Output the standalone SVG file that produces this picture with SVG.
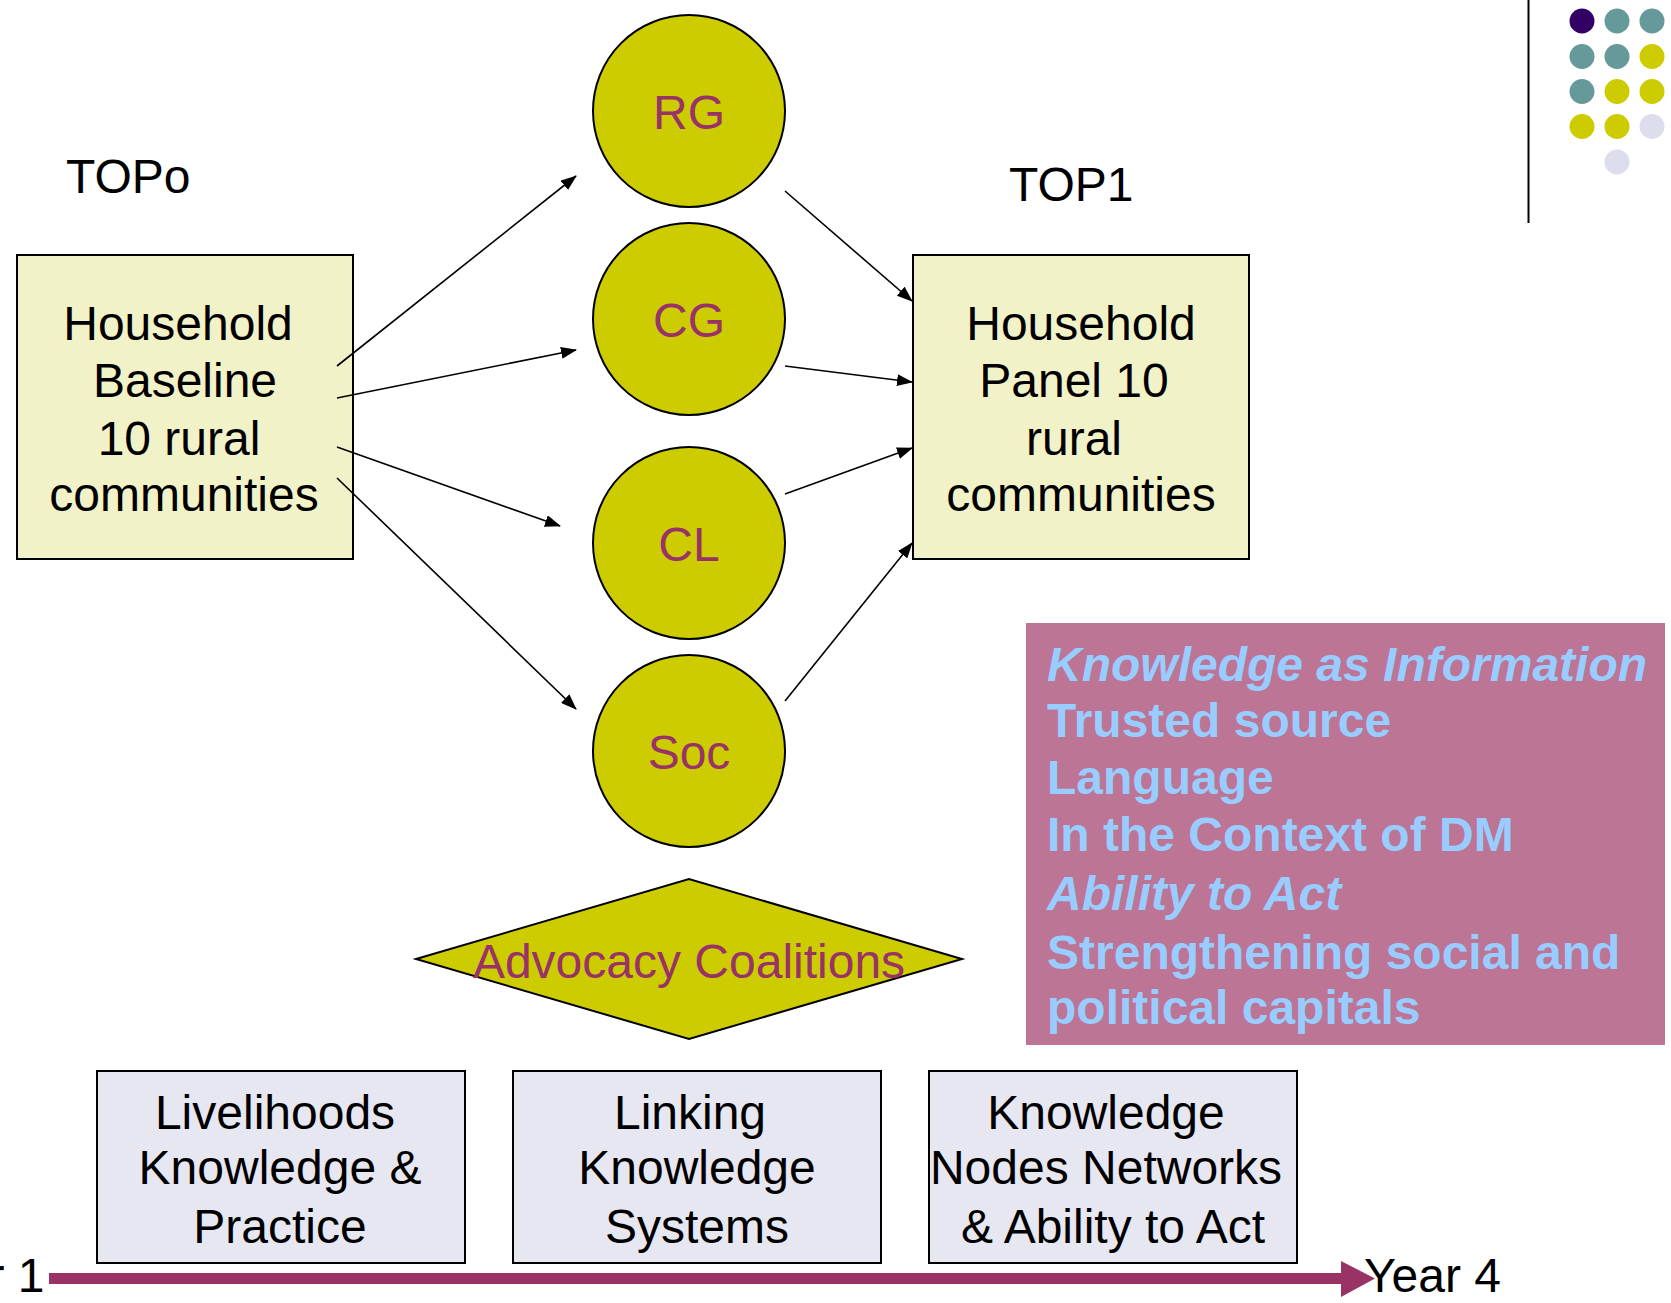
<svg xmlns="http://www.w3.org/2000/svg" width="1671" height="1303" viewBox="0 0 1671 1303">
<style>
text{font-family:"Liberation Sans",Arial,sans-serif;font-size:48px}
.mid{text-anchor:middle}
.node{fill:#CCCC00;stroke:#000;stroke-width:2}
.lbl{fill:#993366;text-anchor:middle}
.ybox{fill:#F2F2C8;stroke:#000;stroke-width:2}
.lbox{fill:#E7E7F1;stroke:#000;stroke-width:2}
.info{font-weight:bold;fill:#99CCFF}
.it{font-style:italic}
.conn{stroke:#000;stroke-width:1.6;fill:none;marker-end:url(#ah)}
</style>
<defs>
<marker id="ah" markerWidth="16" markerHeight="12" refX="15" refY="6" orient="auto" markerUnits="userSpaceOnUse">
<path d="M0,0 L16,6 L0,12 z" fill="#000"/>
</marker>
</defs>
<rect width="1671" height="1303" fill="#fff"/>

<g id="decor">
<line x1="1528.5" y1="0" x2="1528.5" y2="223" stroke="#000" stroke-width="2"/>
<circle cx="1582" cy="21" r="12.5" fill="#330066"/>
<circle cx="1617" cy="21" r="12.5" fill="#669999"/>
<circle cx="1652" cy="21" r="12.5" fill="#669999"/>
<circle cx="1582" cy="56.5" r="12.5" fill="#669999"/>
<circle cx="1617" cy="56.5" r="12.5" fill="#669999"/>
<circle cx="1652" cy="56.5" r="12.5" fill="#CCCC00"/>
<circle cx="1582" cy="91.5" r="12.5" fill="#669999"/>
<circle cx="1617" cy="91.5" r="12.5" fill="#CCCC00"/>
<circle cx="1652" cy="91.5" r="12.5" fill="#CCCC00"/>
<circle cx="1582" cy="126.5" r="12.5" fill="#CCCC00"/>
<circle cx="1617" cy="126.5" r="12.5" fill="#CCCC00"/>
<circle cx="1652" cy="126.5" r="12.5" fill="#DDDDEE"/>
<circle cx="1617" cy="162" r="12.5" fill="#DDDDEE"/>
</g>

<g id="topo"><text x="66" y="193">TOPo</text></g>
<g id="top1"><text x="1009" y="201">TOP1</text></g>

<g id="baseline">
<rect class="ybox" x="17" y="255" width="336" height="304"/>
<text class="mid" x="178" y="340">Household</text>
<text class="mid" x="185" y="396.5">Baseline</text>
<text class="mid" x="179" y="455">10 rural</text>
<text class="mid" x="184" y="510.5">communities</text>
</g>

<g id="panel">
<rect class="ybox" x="913" y="255" width="336" height="304"/>
<text class="mid" x="1081" y="340">Household</text>
<text class="mid" x="1074" y="396.5">Panel 10</text>
<text class="mid" x="1074" y="455">rural</text>
<text class="mid" x="1081" y="510.5">communities</text>
</g>

<g id="rg"><circle class="node" cx="689" cy="111" r="96"/><text class="lbl" x="689" y="129">RG</text></g>
<g id="cg"><circle class="node" cx="689" cy="319" r="96"/><text class="lbl" x="689" y="337">CG</text></g>
<g id="cl"><circle class="node" cx="689" cy="543" r="96"/><text class="lbl" x="689" y="561">CL</text></g>
<g id="soc"><circle class="node" cx="689" cy="751" r="96"/><text class="lbl" x="689" y="769">Soc</text></g>

<g id="advocacy">
<polygon class="node" points="416,959 689,879 962,959 689,1039"/>
<text class="lbl" x="689" y="978">Advocacy Coalitions</text>
</g>

<g id="info">
<rect x="1026" y="623" width="639" height="422" fill="#BC7594"/>
<text class="info it" x="1047" y="681">Knowledge as Information</text>
<text class="info" x="1047" y="737">Trusted source</text>
<text class="info" x="1047" y="794">Language</text>
<text class="info" x="1047" y="851">In the Context of DM</text>
<text class="info it" x="1047" y="910">Ability to Act</text>
<text class="info" x="1047" y="969">Strengthening social and</text>
<text class="info" x="1047" y="1024">political capitals</text>
</g>

<g id="livelihoods">
<rect class="lbox" x="97" y="1071" width="368" height="192"/>
<text class="mid" x="275" y="1129">Livelihoods</text>
<text class="mid" x="280" y="1184">Knowledge &amp;</text>
<text class="mid" x="280" y="1243">Practice</text>
</g>
<g id="linking">
<rect class="lbox" x="513" y="1071" width="368" height="192"/>
<text class="mid" x="690" y="1129">Linking</text>
<text class="mid" x="697" y="1184">Knowledge</text>
<text class="mid" x="697" y="1243">Systems</text>
</g>
<g id="nodes">
<rect class="lbox" x="929" y="1071" width="368" height="192"/>
<text class="mid" x="1106" y="1129">Knowledge</text>
<text class="mid" x="1106" y="1184">Nodes Networks</text>
<text class="mid" x="1113" y="1243">&amp; Ability to Act</text>
</g>

<g id="timeline">
<rect x="49" y="1273" width="1294" height="11" fill="#993366"/>
<polygon points="1341,1261 1375,1278.5 1341,1297" fill="#993366"/>
<text x="44.5" y="1292" text-anchor="end">Year 1</text>
<text x="1364" y="1292">Year 4</text>
</g>

<g id="connectors">
<line class="conn" x1="337" y1="366" x2="576" y2="176"/>
<line class="conn" x1="337" y1="398" x2="576" y2="350"/>
<line class="conn" x1="337" y1="447" x2="560" y2="526"/>
<line class="conn" x1="337" y1="478" x2="576" y2="709"/>
<line class="conn" x1="785" y1="191" x2="912" y2="301"/>
<line class="conn" x1="785" y1="366" x2="912" y2="382"/>
<line class="conn" x1="785" y1="494" x2="912" y2="448"/>
<line class="conn" x1="785" y1="701" x2="912" y2="543"/>
</g>
</svg>
